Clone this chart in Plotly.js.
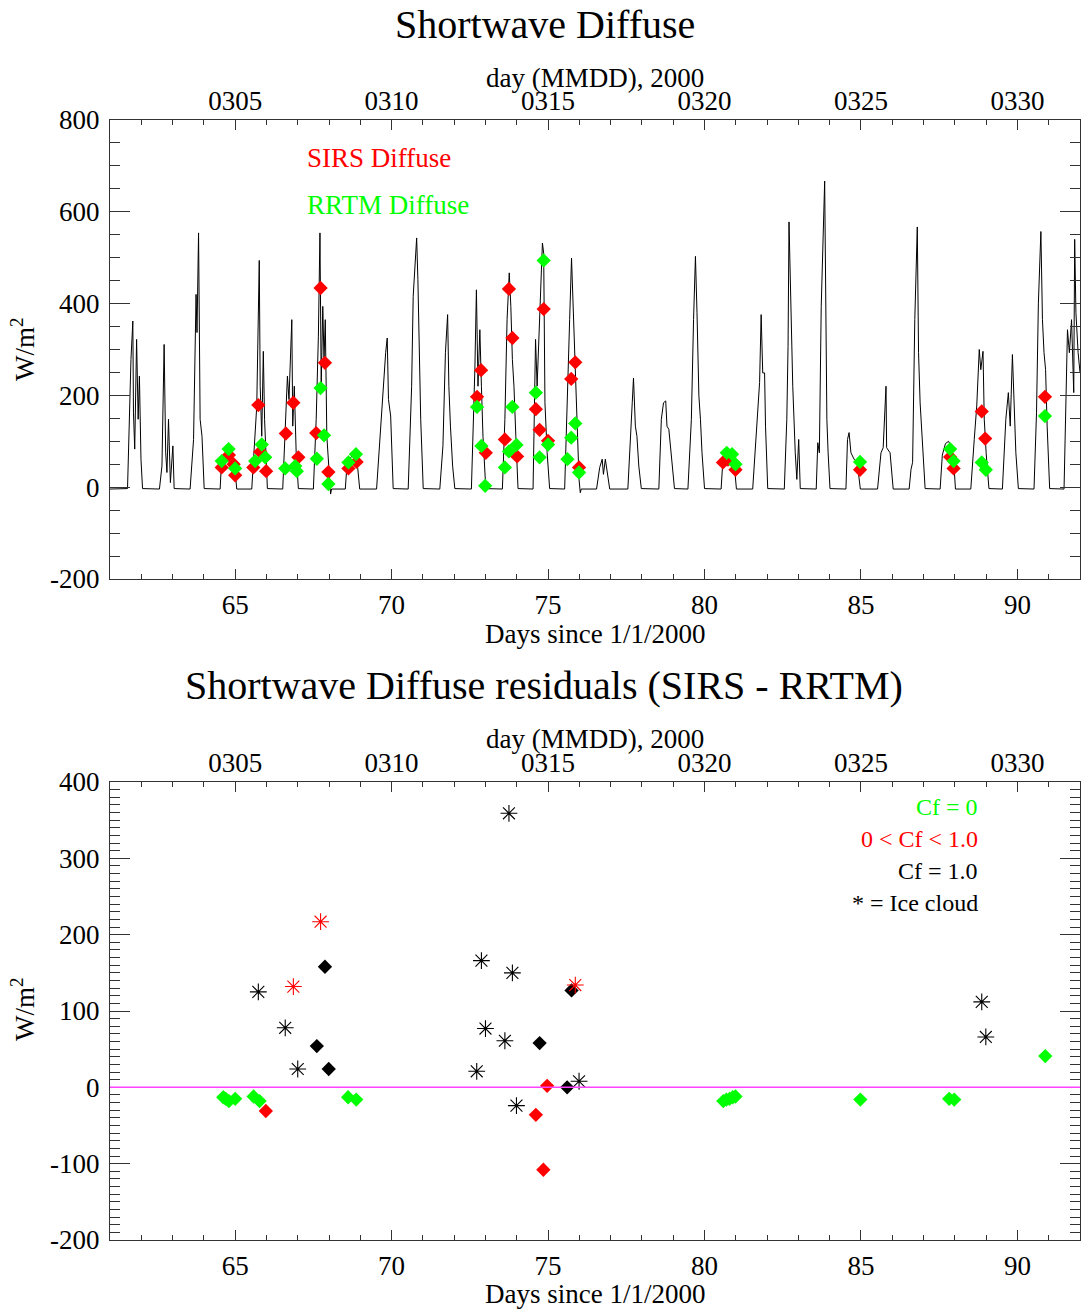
<!DOCTYPE html>
<html>
<head>
<meta charset="utf-8">
<script src="https://cdn.plot.ly/plotly-3.0.1.min.js"></script>
<style>html,body{margin:0;padding:0;background:#fff;}#chart{width:1084px;height:1310px;}</style>
</head>
<body>
<div id="chart"></div>
<script>
// ---- Top panel: SW diffuse time series (days since 1/1/2000, W/m2) ----
const swTime = [
61.00,61.56,61.67,61.73,61.75,61.79,61.85,61.90,61.94,61.99,62.04,
62.58,62.66,62.73,62.78,62.82,62.87,62.93,63.01,63.05,
63.56,63.67,63.75,63.78,63.83,63.85,63.88,63.94,64.01,
64.52,64.56,64.65,64.75,64.85,64.95,65.02,65.05,
65.53,65.61,65.69,65.77,65.80,65.85,65.90,65.94,65.98,66.03,
66.52,66.60,66.67,66.72,66.76,66.81,66.84,66.89,66.95,67.02,
67.50,67.59,67.66,67.71,67.75,67.80,67.84,67.88,67.93,68.03,68.05,68.08,
68.52,68.57,68.65,68.75,68.85,68.92,68.98,
69.52,69.63,69.71,69.81,69.86,69.90,69.97,70.05,
70.53,70.64,70.69,70.74,70.80,70.84,70.88,70.93,71.01,
71.54,71.64,71.72,71.79,71.83,71.88,71.95,72.02,
72.55,72.66,72.71,72.76,72.82,72.87,72.92,73.01,
73.54,73.62,73.69,73.76,73.81,73.86,73.91,73.97,74.04,
74.52,74.60,74.65,74.73,74.82,74.86,74.90,74.97,75.05,
75.53,75.64,75.69,75.75,75.80,75.85,75.91,75.99,76.03,76.06,
76.55,76.65,76.73,76.77,76.83,76.90,76.97,
77.55,77.63,77.69,77.73,77.79,77.84,77.90,77.98,
78.54,78.62,78.69,78.76,78.80,78.86,78.94,79.04,
79.47,79.58,79.65,79.71,79.76,79.82,79.87,79.92,80.00,
80.53,80.58,80.65,80.75,80.85,80.95,81.02,
81.54,81.63,81.70,81.76,81.81,81.86,81.92,81.95,82.02,
82.55,82.63,82.67,82.70,82.76,82.82,82.90,82.95,83.01,83.06,
83.57,83.62,83.67,83.73,83.84,83.87,83.91,83.95,84.01,
84.52,84.57,84.62,84.68,84.78,84.88,84.98,
85.53,85.64,85.71,85.80,85.82,85.93,86.03,
86.54,86.60,86.65,86.72,86.80,86.84,86.89,86.97,87.05,
87.53,87.60,87.70,87.80,87.90,87.98,88.02,
88.51,88.62,88.70,88.78,88.83,88.90,88.94,89.00,89.09,
89.52,89.63,89.71,89.77,89.84,89.90,89.95,90.03,
90.53,90.61,90.67,90.75,90.80,90.85,90.90,90.95,91.03,
91.49,91.60,91.66,91.73,91.80,91.83,91.87,91.94,92.00
];
const swDiffuse = [
-4,-3,278,362,162,83,322,148,242,61,-3,
-4,46,311,75,32,148,10,90,-3,
-4,104,420,337,554,278,148,111,-3,
-4,50,70,80,70,55,20,-4,
-4,75,177,494,220,111,296,148,61,-3,
-4,119,242,191,256,365,133,220,75,-3,
-4,148,329,554,220,394,278,365,111,3,-15,-4,
-4,45,60,70,65,40,-4,
-4,111,177,293,325,191,155,-3,
-4,220,416,474,543,452,329,148,-3,
-4,90,293,376,220,133,46,-3,
-4,256,430,220,343,220,111,-3,
-4,148,365,467,394,278,220,111,-3,
-4,322,220,365,532,510,184,75,-3,
-4,220,365,499,401,329,184,17,-12,-4,
-4,43,61,28,61,30,-4,
-4,90,184,238,133,111,46,-3,
-4,148,184,188,133,126,75,-3,
-4,148,365,503,380,199,148,75,-3,
-4,50,70,80,75,50,-4,
-4,90,148,228,376,249,249,133,-3,
-4,148,307,578,365,220,75,17,104,-3,
-4,97,75,394,667,365,148,75,-3,
-4,104,119,75,61,54,-4,
-4,75,86,220,86,75,-4,
-4,39,54,365,567,293,184,75,-3,
-4,70,95,100,85,40,-4,
-4,104,177,300,256,296,148,75,-3,
-4,148,206,133,289,148,75,-3,
-4,162,401,557,365,293,256,133,-3,
-4,343,293,365,206,540,380,293,250
];

// SIRS (red) and RRTM (green) diffuse samples
const sirsTime = [64.57,64.80,64.95,65.00,65.58,65.74,65.80,65.99,66.62,66.86,67.02,67.59,67.73,67.87,67.98,68.62,68.88,
  72.73,72.86,73.01,73.62,73.75,73.86,74.01,74.61,74.73,74.86,75.00,75.74,75.87,75.99,
  80.59,80.75,80.99,84.97,87.85,87.96,88.86,88.97,90.88];
const sirsVal  = [43,70,50,26,43,179,77,35,117,184,65,118,434,271,33,41,55,
  197,255,75,104,432,325,67,170,125,388,101,236,272,43,
  54,60,38,38,66,41,165,106,197];
const rrtmTime = [64.57,64.79,65.00,65.64,65.85,65.96,66.60,66.92,66.97,67.61,67.73,67.84,67.98,68.62,68.86,
  72.73,72.87,72.99,73.62,73.75,73.86,73.99,74.61,74.73,74.86,75.00,75.62,75.74,75.87,75.99,
  80.71,80.88,80.99,84.97,87.85,87.96,88.86,88.99,90.88];
const rrtmVal  = [57,83,41,57,93,65,41,46,35,62,216,113,7,54,72,
  175,90,3,43,78,175,92,206,65,494,93,61,108,139,32,
  75,72,50,55,83,57,54,38,155];

// ---- Bottom panel: residuals SIRS - RRTM (W/m2) ----
const clearTime = [64.62,64.70,64.80,65.00,65.59,65.78,68.61,68.87,80.60,80.70,80.80,80.90,80.99,84.98,87.82,87.98,90.89];
const clearRes  = [-13,-15,-18,-15,-12,-18,-13,-16,-18,-16,-15,-13,-12,-16,-15,-16,41];
const partTime  = [65.98,74.61,74.85,74.97];
const partRes   = [-31,-36,-108,2];
const partIceTime = [66.86,67.73,75.87];
const partIceRes  = [132,217,134];
const ovcTime = [67.61,67.87,67.99,74.73,75.61,75.75];
const ovcRes  = [54,158,24,58,0,127];
const ovcIceTime = [65.74,66.60,67.00,72.72,72.87,73.00,73.62,73.75,73.86,73.99,75.99,88.86,88.99];
const ovcIceRes  = [125,78,24,21,166,77,61,359,150,-24,8,112,66];

// Axis tick labels
const dayTicks = [65,70,75,80,85,90];
const dateLabels = ['0305','0310','0315','0320','0325','0330'];
const topYTicks = [-200,0,200,400,600,800];
const topYLabels = ['-200','0','200','400','600','800'];
const botYTicks = [-200,-100,0,100,200,300,400];
const botYLabels = ['-200','-100','0','100','200','300','400'];

const FONT = 'Liberation Serif, Times New Roman, serif';
const GREEN = '#00ff00', RED = '#ff0000', BLACK = '#000000';
const AX = '#333333';

const diamond = (c) => ({symbol:'diamond', size:11, color:c, line:{width:0}});
const star = (c) => ({symbol:'asterisk-open', size:14, color:c, line:{color:c, width:1.1}});

const data = [
  {x:swTime, y:swDiffuse, xaxis:'x', yaxis:'y', type:'scatter', mode:'lines', line:{color:BLACK, width:1}},
  {x:sirsTime, y:sirsVal, xaxis:'x', yaxis:'y', type:'scatter', mode:'markers', marker:diamond(RED)},
  {x:rrtmTime, y:rrtmVal, xaxis:'x', yaxis:'y', type:'scatter', mode:'markers', marker:diamond(GREEN)},
  {x:[], y:[], xaxis:'x2', yaxis:'y', type:'scatter', mode:'markers'},
  {x:clearTime, y:clearRes, xaxis:'x3', yaxis:'y2', type:'scatter', mode:'markers', marker:diamond(GREEN)},
  {x:partTime, y:partRes, xaxis:'x3', yaxis:'y2', type:'scatter', mode:'markers', marker:diamond(RED)},
  {x:ovcTime, y:ovcRes, xaxis:'x3', yaxis:'y2', type:'scatter', mode:'markers', marker:diamond(BLACK)},
  {x:ovcIceTime, y:ovcIceRes, xaxis:'x3', yaxis:'y2', type:'scatter', mode:'markers', marker:star(BLACK)},
  {x:partIceTime, y:partIceRes, xaxis:'x3', yaxis:'y2', type:'scatter', mode:'markers', marker:star(RED)},
  {x:[], y:[], xaxis:'x4', yaxis:'y2', type:'scatter', mode:'markers'}
];

const tickFont = {family:FONT, size:27, color:BLACK};
function xBase(anchor){
  return {domain:[0,1], anchor:anchor, range:[61,92], tickmode:'linear', tick0:65, dtick:5,
    ticks:'inside', ticklen:10, tickwidth:1, tickcolor:AX,
    minor:{dtick:1, tick0:0, ticks:'inside', ticklen:5, tickwidth:1, tickcolor:AX, showgrid:false},
    showline:true, linecolor:AX, linewidth:1, mirror:'ticks', showgrid:false, zeroline:false,
    tickfont:tickFont, ticklabelstandoff:2};
}
function xTop(over, anchor){
  return {overlaying:over, side:'top', anchor:anchor, range:[61,92], tickmode:'array',
    tickvals:dayTicks, ticktext:dateLabels, ticks:'', showline:false, showgrid:false, zeroline:false,
    tickfont:tickFont, ticklabelstandoff:4};
}
function yBase(domain, anchor, range, vals, labels, mdtick){
  return {domain:domain, anchor:anchor, range:range, tickmode:'array', tickvals:vals, ticktext:labels,
    ticks:'inside', ticklen:20, tickwidth:1, tickcolor:AX,
    minor:{dtick:mdtick, tick0:0, ticks:'inside', ticklen:10, tickwidth:1, tickcolor:AX, showgrid:false},
    showline:true, linecolor:AX, linewidth:1, mirror:'ticks', showgrid:false, zeroline:false,
    tickfont:tickFont, ticklabelstandoff:4};
}

const PH = 1120, PT = 120, PW = 970, PL = 110;
const py = (p) => (PT + PH - p) / PH;     // page pixel y -> paper y
const px = (p) => (p - PL) / PW;          // page pixel x -> paper x

function ann(text, x, y, size, color, extra){
  return Object.assign({text:text, xref:'paper', yref:'paper', x:x, y:y, xanchor:'center', yanchor:'middle',
    showarrow:false, font:{family:FONT, size:size, color:color||BLACK}}, extra||{});
}

const layout = {
  width:1084, height:1310,
  margin:{l:PL, r:4, t:PT, b:70},
  paper_bgcolor:'#ffffff', plot_bgcolor:'#ffffff',
  showlegend:false,
  xaxis: xBase('y'),
  xaxis2: xTop('x','y'),
  yaxis: yBase([py(579),1], 'x', [-200,800], topYTicks, topYLabels, 50),
  xaxis3: xBase('y2'),
  xaxis4: xTop('x3','y2'),
  yaxis2: yBase([0, py(782)], 'x3', [-200,400], botYTicks, botYLabels, 10),
  shapes:[
    {type:'line', xref:'x3 domain', yref:'y2', x0:0, x1:1, y0:0, y1:0, line:{color:'#ff40ff', width:1.5}}
  ],
  annotations:[
    ann('Shortwave Diffuse', px(545), py(25), 40),
    ann('day (MMDD), 2000', 0.5, py(78), 27),
    ann('Days since 1/1/2000', 0.5, py(634), 27),
    ann('W/m<sup>2</sup>', px(23), py(350), 27, BLACK, {textangle:-90}),
    ann('Shortwave Diffuse residuals (SIRS - RRTM)', px(544), py(685), 40),
    ann('day (MMDD), 2000', 0.5, py(739), 27),
    ann('Days since 1/1/2000', 0.5, py(1294), 27),
    ann('W/m<sup>2</sup>', px(23), py(1010), 27, BLACK, {textangle:-90}),
    ann('SIRS Diffuse', px(305), py(158), 27, RED, {xanchor:'left'}),
    ann('RRTM Diffuse', px(305), py(205), 27, GREEN, {xanchor:'left'}),
    ann('Cf = 0', px(980), py(807), 24, GREEN, {xanchor:'right'}),
    ann('0 < Cf < 1.0', px(980), py(839), 24, RED, {xanchor:'right'}),
    ann('Cf = 1.0', px(980), py(871), 24, BLACK, {xanchor:'right'}),
    ann('* = Ice cloud', px(980), py(903), 24, BLACK, {xanchor:'right'})
  ]
};

Plotly.newPlot('chart', data, layout, {staticPlot:true, displayModeBar:false});
</script>
</body>
</html>
